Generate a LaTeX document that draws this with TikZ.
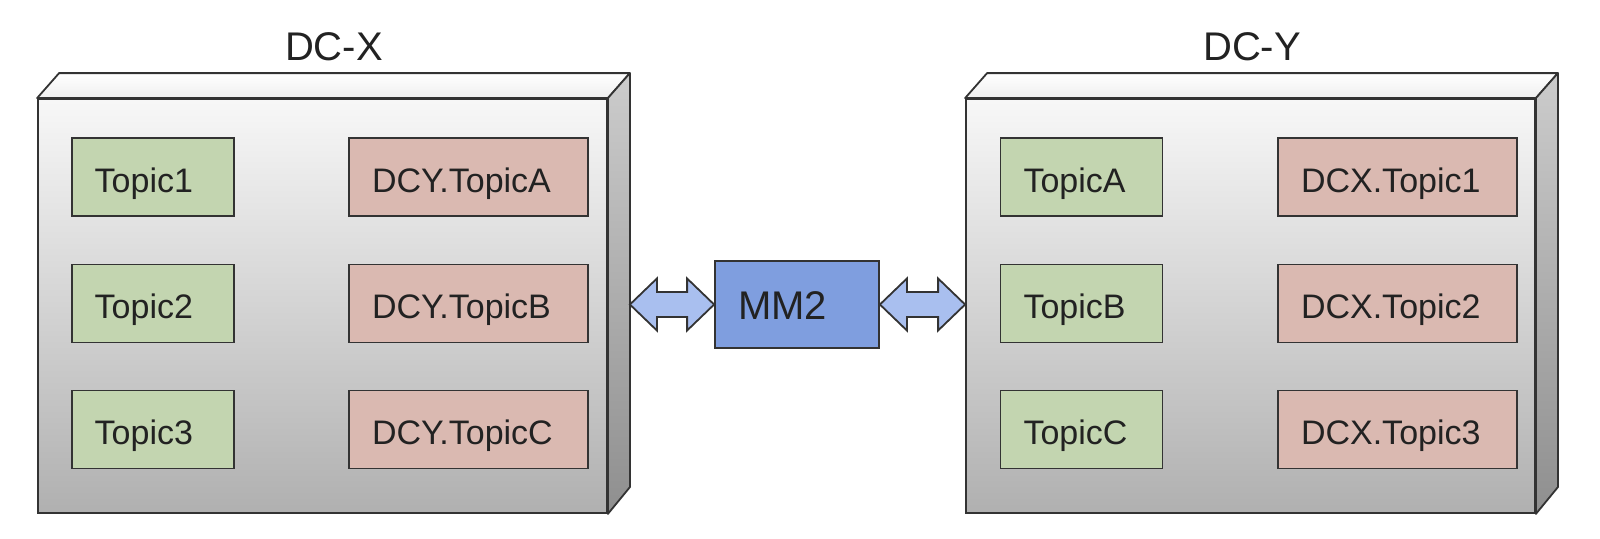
\documentclass[tikz,border=0pt]{standalone}
\usepackage{fontspec}
\setmainfont{Liberation Sans}
\usetikzlibrary{calc}
\definecolor{topicgreen}{HTML}{C3D5B0}
\definecolor{topicred}{HTML}{DAB9B1}
\definecolor{mmblue}{HTML}{7F9EDF}
\definecolor{arrowblue}{HTML}{A9BFEF}
\definecolor{edgegray}{HTML}{333333}
\definecolor{textgray}{HTML}{222222}
\begin{document}
\begin{tikzpicture}[x=1pt,y=-1pt,
  front/.style={draw=edgegray, line width=1.8pt, top color=white!97!black, bottom color=black!31,
    minimum width=569pt, minimum height=414pt, inner sep=0pt},
  topface/.style={draw=edgegray, line width=1.8pt, line join=round, top color=white, bottom color=white!94!black},
  sideface/.style={draw=edgegray, line width=1.8pt, line join=round, top color=black!20, bottom color=black!44},
  topicbase/.style={draw=edgegray, line width=1.8pt, inner xsep=23pt, inner ysep=0pt, minimum height=78pt,
    align=left, text height=30pt, text depth=0pt, text=textgray, font=\fontsize{34}{40}\selectfont},
  gbox/.style={topicbase, fill=topicgreen, text width=116pt},
  rbox/.style={topicbase, fill=topicred, text width=193pt},
  mmbox/.style={draw=edgegray, line width=1.8pt, fill=mmblue, inner xsep=23pt, inner ysep=0pt, minimum height=87pt,
    text width=118pt, align=left, text height=29pt, text depth=0pt, text=textgray, font=\fontsize{40}{48}\selectfont},
  dclabel/.style={anchor=base, text=textgray, font=\fontsize{40}{48}\selectfont},
  biarrow/.style={draw=edgegray, line width=1.8pt, fill=arrowblue, line join=miter}
]
\useasboundingbox (0,0) rectangle (1600,538);

% ---- DC-X ----
\node[front] (dcx) at (322.5,306) {};
\draw[topface] (dcx.north west) -- ++(22,-25) -- ($(dcx.north east)+(22,-25)$) -- (dcx.north east) -- cycle;
\draw[sideface] (dcx.north east) -- ++(22,-25) -- ++(0,414) -- (dcx.south east) -- cycle;
\coordinate (dcxback) at ($(dcx.north east)+(22,0)$);
\node[dclabel] (lx) at (334,60) {DC-X};

\node[gbox] (t1) at (152.7,177) {Topic1};
\node[gbox] (t2) at (152.7,303.5) {Topic2};
\node[gbox] (t3) at (152.7,429.5) {Topic3};
\node[rbox] (ya) at (468.5,177) {DCY.TopicA};
\node[rbox] (yb) at (468.5,303.5) {DCY.TopicB};
\node[rbox] (yc) at (468.5,429.5) {DCY.TopicC};

% ---- DC-Y ----
\node[front] (dcy) at (1250.5,306) {};
\draw[topface] (dcy.north west) -- ++(22,-25) -- ($(dcy.north east)+(22,-25)$) -- (dcy.north east) -- cycle;
\draw[sideface] (dcy.north east) -- ++(22,-25) -- ++(0,414) -- (dcy.south east) -- cycle;
\node[dclabel] (ly) at (1252,60) {DC-Y};

\node[gbox] (ta) at (1081.5,177) {TopicA};
\node[gbox] (tb) at (1081.5,303.5) {TopicB};
\node[gbox] (tc) at (1081.5,429.5) {TopicC};
\node[rbox] (x1) at (1397.5,177) {DCX.Topic1};
\node[rbox] (x2) at (1397.5,303.5) {DCX.Topic2};
\node[rbox] (x3) at (1397.5,429.5) {DCX.Topic3};

% ---- MM2 ----
\node[mmbox] (mm) at (797,304.5) {MM2};

% ---- double arrows ----
\draw[biarrow] (dcxback |- mm.west) -- ++(27,-26) -- ++(0,13.5)
  -- ($(mm.west)+(-27,-12.5)$) -- ++(0,-13.5) -- (mm.west) -- ++(-27,26) -- ++(0,-13.5)
  -- ($(dcxback |- mm.west)+(27,12.5)$) -- ++(0,13.5) -- cycle;
\draw[biarrow] (mm.east) -- ++(27,-26) -- ++(0,13.5)
  -- ($(dcy.west |- mm.east)+(-27,-12.5)$) -- ++(0,-13.5) -- (dcy.west |- mm.east) -- ++(-27,26) -- ++(0,-13.5)
  -- ($(mm.east)+(27,12.5)$) -- ++(0,13.5) -- cycle;
\end{tikzpicture}
\end{document}
